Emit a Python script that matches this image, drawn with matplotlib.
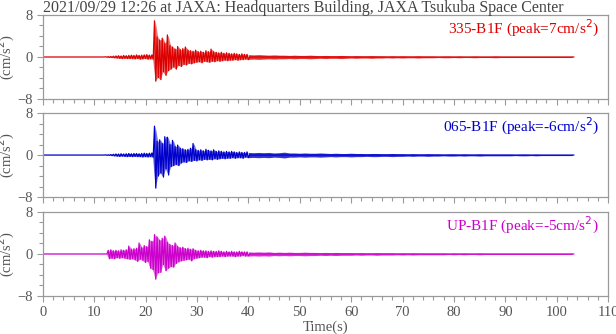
import numpy as np
import matplotlib
matplotlib.use("Agg")
import matplotlib.pyplot as plt
from matplotlib.ticker import MultipleLocator

plt.rcParams['font.family'] = ['Liberation Serif', 'DejaVu Serif']

title = "2021/09/29 12:26 at JAXA: Headquarters Building, JAXA Tsukuba Space Center"
channels = ["335-B1F", "065-B1F", "UP-B1F"]
peaks = [7, -6, -5]
colors = ["#dd0000", "#0000cc", "#cc00cc"]
t_end = 103.3

# envelope of each trace, 0.5 s steps starting at 12.25 s (upper at t, lower at t+0.25)
red_up = [0.05, 0.08, 0.1, 0.15, 0.2, 0.25, 0.2, 0.3, 0.25, 0.3,
          0.35, 0.3, 0.4, 0.3, 0.35, 0.4, 0.45, 0.35, 0.4, 6.9,
          3.8, 3.2, 3.6, 2.6, 4.2, 2.2, 1.9, 1.5, 2.0, 1.4,
          1.6, 1.9, 1.3, 1.2, 1.1, 1.3, 1.0, 1.1, 0.9, 1.2,
          1.0, 1.5, 1.0, 0.9, 0.8, 0.9, 0.7, 0.8, 0.7, 0.6,
          0.7, 0.6, 0.5, 0.6, 0.5, 0.5]
red_dn = [-0.05, -0.08, -0.1, -0.15, -0.2, -0.25, -0.3, -0.25, -0.3, -0.3,
          -0.3, -0.35, -0.3, -0.4, -0.35, -0.3, -0.4, -0.35, -0.4, -4.6,
          -3.9, -4.3, -2.8, -3.5, -2.6, -2.3, -1.9, -2.3, -1.6, -1.8,
          -1.4, -1.5, -1.2, -1.3, -1.1, -1.0, -0.9, -1.1, -0.8, -0.9,
          -1.0, -0.8, -0.9, -0.7, -0.8, -0.7, -0.6, -0.7, -0.6, -0.6,
          -0.5, -0.6, -0.5, -0.5, -0.4, -0.5]
blue_up = [0.05, 0.05, 0.1, 0.15, 0.2, 0.2, 0.25, 0.2, 0.25, 0.3,
           0.25, 0.3, 0.3, 0.25, 0.3, 0.35, 0.3, 0.35, 0.4, 5.5,
           2.6, 2.9, 2.2, 3.5, 3.4, 2.0, 2.8, 1.6, 1.9, 1.3,
           1.2, 1.0, 1.1, 1.3, 2.2, 1.0, 0.9, 1.0, 0.8, 1.1,
           0.9, 0.8, 1.0, 0.7, 0.8, 0.7, 0.6, 0.7, 0.6, 0.7,
           0.6, 0.5, 0.6, 0.5, 0.5, 0.6]
blue_dn = [-0.05, -0.05, -0.1, -0.15, -0.2, -0.25, -0.2, -0.25, -0.3, -0.25,
           -0.3, -0.25, -0.3, -0.3, -0.35, -0.3, -0.35, -0.3, -0.4, -6.3,
           -4.0, -3.4, -4.2, -2.6, -3.8, -2.2, -2.0, -1.8, -2.0, -1.5,
           -1.3, -1.4, -1.1, -1.2, -1.0, -1.1, -0.9, -1.0, -0.8, -0.9,
           -0.8, -0.9, -0.7, -0.8, -0.7, -0.6, -0.7, -0.6, -0.6, -0.5,
           -0.6, -0.5, -0.5, -0.6, -0.4, -0.5]
mag_up = [0.0, 0.7, 0.8, 0.6, 0.7, 0.6, 0.8, 0.7, 0.8, 1.5,
          0.9, 1.0, 1.1, 2.1, 1.2, 1.6, 1.4, 2.7, 2.4, 3.7,
          3.2, 2.6, 3.0, 3.4, 2.2, 1.8, 1.6, 2.1, 1.4, 1.2,
          1.3, 1.0, 1.1, 0.9, 1.0, 0.7, 0.6, 0.7, 0.6, 0.6,
          0.5, 0.6, 0.5, 0.5, 0.6, 0.5, 0.4, 0.5, 0.4, 0.5,
          0.4, 0.4, 0.5, 0.4, 0.4, 0.4]
mag_dn = [0.0, -0.9, -0.8, -0.9, -0.7, -0.8, -0.7, -0.8, -0.9, -1.0,
          -0.9, -1.1, -1.4, -1.0, -1.2, -1.6, -1.4, -2.7, -3.0, -4.8,
          -3.6, -3.5, -2.0, -3.2, -2.7, -2.4, -2.5, -1.8, -1.5, -1.3,
          -1.2, -1.1, -1.0, -1.3, -0.9, -0.8, -0.7, -0.6, -0.6, -0.7,
          -0.5, -0.6, -0.5, -0.5, -0.5, -0.4, -0.5, -0.4, -0.4, -0.4,
          -0.5, -0.4, -0.4, -0.3, -0.4, -0.4]

# coda half-width, 1 s steps from 40 s to 103 s
red_tail = [0.45, 0.4, 0.45, 0.4, 0.35, 0.4, 0.35, 0.35, 0.3, 0.35,
            0.3, 0.3, 0.35, 0.3, 0.25, 0.3, 0.25, 0.25, 0.3, 0.25,
            0.2, 0.25, 0.2, 0.2, 0.25, 0.2, 0.2, 0.15, 0.2, 0.15,
            0.2, 0.15, 0.15, 0.2, 0.15, 0.15, 0.15, 0.1, 0.15, 0.15,
            0.1, 0.15, 0.1, 0.1, 0.15, 0.1, 0.1, 0.1, 0.15, 0.1,
            0.1, 0.1, 0.1, 0.1, 0.1, 0.1, 0.1, 0.1, 0.1, 0.1,
            0.1, 0.1, 0.1, 0.1]
blue_tail = [0.5, 0.45, 0.5, 0.45, 0.5, 0.4, 0.45, 0.55, 0.4, 0.4,
             0.35, 0.4, 0.35, 0.35, 0.4, 0.35, 0.3, 0.35, 0.3, 0.3,
             0.35, 0.3, 0.3, 0.25, 0.3, 0.3, 0.25, 0.25, 0.3, 0.25,
             0.25, 0.2, 0.25, 0.2, 0.2, 0.25, 0.2, 0.2, 0.15, 0.2,
             0.2, 0.15, 0.2, 0.15, 0.15, 0.2, 0.15, 0.15, 0.15, 0.15,
             0.15, 0.15, 0.1, 0.15, 0.15, 0.1, 0.15, 0.1, 0.1, 0.1,
             0.1, 0.1, 0.1, 0.1]
mag_tail = [0.4, 0.35, 0.4, 0.35, 0.4, 0.3, 0.35, 0.3, 0.35, 0.3,
            0.3, 0.35, 0.3, 0.3, 0.25, 0.3, 0.25, 0.3, 0.25, 0.25,
            0.25, 0.2, 0.25, 0.2, 0.2, 0.25, 0.2, 0.2, 0.2, 0.15,
            0.2, 0.15, 0.2, 0.15, 0.15, 0.15, 0.15, 0.15, 0.15, 0.1,
            0.15, 0.1, 0.15, 0.1, 0.1, 0.15, 0.1, 0.1, 0.1, 0.1,
            0.1, 0.1, 0.1, 0.1, 0.1, 0.1, 0.1, 0.1, 0.1, 0.1,
            0.1, 0.1, 0.1, 0.1]

traces = [(red_up, red_dn, red_tail),
          (blue_up, blue_dn, blue_tail),
          (mag_up, mag_dn, mag_tail)]


def build_trace(up, dn):
    t_main = 12.25 + 0.5 * np.arange(len(up))
    t = [0.0, 12.0]
    a = [0.0, 0.0]
    for ti, u, d in zip(t_main, up, dn):
        t += [ti, ti + 0.25]
        a += [u, d]
    t += [t_main[-1] + 0.5, t_end]
    a += [0.0, 0.0]
    return t_main, np.array(t), np.array(a)


frame = "#9a9a9a"
txt = "#555555"

fig = plt.figure(figsize=(6.16, 3.34), dpi=100)
left, width = 0.0693, 0.918
bottoms = [0.7036, 0.410, 0.1138]
height = 0.2515

for k in range(3):
    ax = fig.add_axes([left, bottoms[k], width, height])
    up, dn, tail = traces[k]
    t_main, t, a = build_trace(up, dn)
    # body of the burst, then the wiggle on top
    ax.fill_between(t_main + 0.125, dn, up, color=colors[k], alpha=0.55, lw=0)
    ax.plot(t, a, color=colors[k], lw=0.9)
    # coda as a thin band around zero
    tail = np.array(tail)
    t_coda = 40.0 + np.arange(len(tail))
    ax.fill_between(t_coda, -tail, tail, color=colors[k], alpha=0.8, lw=0)
    ax.set_xlim(0, 110)
    ax.set_ylim(-8, 8)
    ax.set_yticks([-8, 0, 8])
    ax.yaxis.set_minor_locator(MultipleLocator(2))
    ax.xaxis.set_major_locator(MultipleLocator(10))
    ax.xaxis.set_minor_locator(MultipleLocator(2))
    ax.tick_params(which='both', direction='out', color=frame, labelcolor=txt,
                   labelsize=10.5, width=0.8)
    ax.tick_params(which='major', length=4)
    ax.tick_params(which='minor', length=3)
    for s in ax.spines.values():
        s.set_color(frame)
        s.set_linewidth(0.9)
    ax.set_ylabel("(cm/s$^2$)", color=txt, fontsize=10.5)
    ax.yaxis.set_label_coords(-0.045, 0.5)
    if k < 2:
        ax.tick_params(axis='x', labelbottom=False)
    else:
        ax.set_xlabel("Time(s)", color=txt, fontsize=10.5, labelpad=1)
    ax.text(0.983, 0.97, f"{channels[k]} (peak={peaks[k]}cm/s$^2$)",
            transform=ax.transAxes, ha='right', va='top',
            color=colors[k], fontsize=11)
    if k == 0:
        ax.text(0.0, 1.036, title, transform=ax.transAxes, ha='left',
                va='baseline', color="#444444", fontsize=11.5)

fig.savefig("out.png", dpi=100)
